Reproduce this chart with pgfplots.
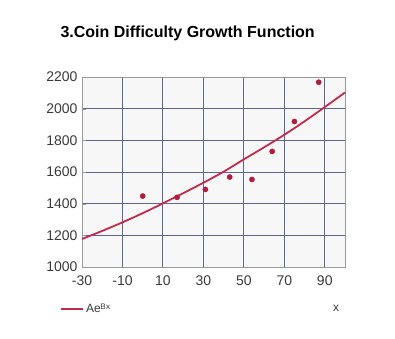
\documentclass[border=0pt]{standalone}
\usepackage{pgfplots}
\pgfplotsset{compat=1.18}
\usetikzlibrary{calc}
\usepackage{fontspec}
\setmainfont{Liberation Sans}
\definecolor{gridc}{HTML}{5A6796}
\definecolor{linec}{HTML}{C42A4A}
\definecolor{dotc}{HTML}{B01C3C}
\definecolor{tickc}{HTML}{3A3A3A}
\begin{document}
\begin{tikzpicture}
\begin{axis}[
  width=263pt, height=190pt, scale only axis,
  xmin=-30, xmax=100, ymin=1000, ymax=2200,
  xtick={-30,-10,10,30,50,70,90},
  ytick={1000,1200,...,2200},
  grid=major,
  major grid style={gridc, line width=0.9pt},
  axis line style={gray!80},
  axis background/.style={fill=gray!6},
  tick style={gray!80},
  xtick style={draw=none},
  ytick pos=left,
  y tick label style={font=\fontsize{14}{15}\selectfont, text=tickc, xshift=-1pt},
  x tick label style={font=\fontsize{14}{15}\selectfont, text=tickc, yshift=-5pt},
  /pgf/number format/assume math mode=true,
  /pgf/number format/1000 sep={},
  xlabel={x},
  xlabel style={font=\fontsize{12}{14}\selectfont, text=tickc, at={(axis description cs:0.966,-0.22)}, anchor=center},
  legend style={at={(axis description cs:-0.095,-0.22)}, anchor=west, draw=none, fill=none, font=\fontsize{12}{14}\selectfont, text=tickc},
  legend cell align=left,
  legend image code/.code={\draw[linec, line width=1.8pt] (0pt,0pt) -- (22pt,0pt);},
  clip=false,
]
\addplot[linec, line width=1.8pt, smooth] coordinates {
  (-30,1177) (-20,1228) (-10,1282) (0,1340) (10,1402) (20,1466) (30,1532)
  (40,1602) (50,1680) (60,1756) (70,1835) (80,1920) (90,2010) (100,2102)
};
\addlegendentry{Ae\raisebox{0.55ex}{\fontsize{8}{9}\selectfont Bx}}
\addplot[only marks, mark=*, mark size=2.6pt, dotc, forget plot] coordinates {
  (0,1448) (17,1440) (31,1490) (43,1568) (54,1553) (64,1730) (75,1919) (87,2167)
};
\coordinate (sw) at (rel axis cs:0,0);
\end{axis}
\pgfresetboundingbox
\useasboundingbox ($(sw)+(-82pt,-71pt)$) rectangle ($(sw)+(313pt,267pt)$);
\node[font=\fontsize{16}{18}\selectfont\bfseries, anchor=west] at ($(sw)+(-25pt,234pt)$) {3.Coin Difficulty Growth Function};
\end{tikzpicture}
\end{document}
